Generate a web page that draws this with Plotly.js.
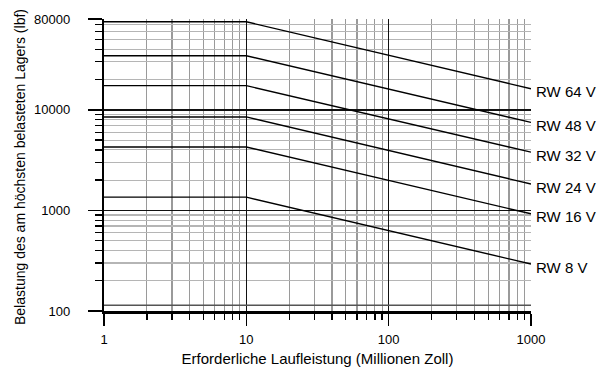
<!DOCTYPE html>
<html>
<head>
<meta charset="utf-8">
<script src="https://cdn.plot.ly/plotly-3.0.1.min.js"></script>
<style>
html,body{margin:0;padding:0;background:#fff;}
#chart{width:599px;height:368px;}
</style>
</head>
<body>
<div id="chart"></div>
<script>
// Data
const seriesNames = ["RW 64 V", "RW 48 V", "RW 32 V", "RW 24 V", "RW 16 V", "RW 8 V"];
const lifeX = [1, 10, 1000];                 // Erforderliche Laufleistung (Mio. Zoll)
const flatLoad = [75000, 34500, 17400, 8500, 4270, 1355];   // load up to 10
const endLoad  = [16200, 7500, 3800, 1830, 925, 293];       // load at 1000
const baseLineLoad = 114;                     // extra horizontal line near the bottom
const xMajorTicks = [1, 10, 100, 1000];
const xMajorText = ["1", "10", "100", "1000"];
const xMinorTicks = [2,3,4,5,6,7,8,9,20,30,40,50,60,70,80,90,200,300,400,500,600,700,800,900];
const yMajorTicks = [100, 1000, 10000, 80000];
const yMajorText = ["100", "1000", "10000", "80000"];
const yMinorTicks = [200,300,400,500,600,700,800,900,2000,3000,4000,5000,6000,7000,8000,9000,20000,30000,40000,50000,60000,70000];
const xTitle = "Erforderliche Laufleistung (Millionen Zoll)";
const yTitle = "Belastung des am höchsten belasteten Lagers (lbf)";

const FONT = "Liberation Sans, Arial, sans-serif";

const traces = seriesNames.map((name, i) => ({
  type: "scatter",
  mode: "lines",
  name: name,
  x: lifeX,
  y: [flatLoad[i], flatLoad[i], endLoad[i]],
  line: {color: "#000", width: 1.4},
  hoverinfo: "skip"
}));
traces.push({
  type: "scatter", mode: "lines",
  x: [lifeX[0], lifeX[lifeX.length - 1]],
  y: [baseLineLoad, baseLineLoad],
  line: {color: "#555", width: 1.4},
  hoverinfo: "skip"
});

const annotations = seriesNames.map((name, i) => ({
  xref: "x", yref: "y",
  x: Math.log10(lifeX[lifeX.length - 1]),
  y: Math.log10(endLoad[i]),
  text: name,
  showarrow: false,
  xanchor: "left",
  yanchor: "middle",
  xshift: 3,
  yshift: -3,
  font: {family: FONT, size: 15, color: "#000"}
}));
// y-axis title placed as a rotated annotation for exact positioning
annotations.push({
  xref: "paper", yref: "paper",
  x: 0, y: 0.5,
  xanchor: "center", yanchor: "middle",
  xshift: -84, yshift: -2,
  textangle: -90,
  text: yTitle,
  showarrow: false,
  font: {family: FONT, size: 14, color: "#000"}
});

const layout = {
  width: 599, height: 368,
  margin: {l: 104, r: 68, t: 19, b: 57, pad: 0},
  paper_bgcolor: "#fff",
  plot_bgcolor: "#fff",
  showlegend: false,
  font: {family: FONT, size: 13, color: "#000"},
  xaxis: {
    type: "log",
    range: [0, 3],
    tickmode: "array",
    tickvals: xMajorTicks,
    ticktext: xMajorText,
    ticks: "outside", ticklen: 12, tickwidth: 1.5, tickcolor: "#000",
    ticklabelstandoff: 3,
    showgrid: true, gridcolor: "#111", gridwidth: 1.4,
    showline: true, linecolor: "#000", linewidth: 2.5,
    zeroline: false,
    tickfont: {family: FONT, size: 13, color: "#000"},
    minor: {
      tickmode: "array", tickvals: xMinorTicks,
      ticks: "outside", ticklen: 6, tickwidth: 1.3, tickcolor: "#000",
      showgrid: true, gridcolor: "#9a9a9a", gridwidth: 1.2
    },
    title: {text: xTitle, font: {family: FONT, size: 15, color: "#000"}, standoff: 8}
  },
  yaxis: {
    type: "log",
    range: [2, Math.log10(80000)],
    tickmode: "array",
    tickvals: yMajorTicks,
    ticktext: yMajorText,
    ticks: "outside", ticklen: 14, tickwidth: 1.5, tickcolor: "#000",
    ticklabelstandoff: 15,
    showgrid: true, gridcolor: "#111", gridwidth: 1.4,
    showline: true, linecolor: "#000", linewidth: 2.2,
    zeroline: false,
    tickfont: {family: FONT, size: 13, color: "#000"},
    minor: {
      tickmode: "array", tickvals: yMinorTicks,
      ticks: "outside", ticklen: 7, tickwidth: 1.3, tickcolor: "#000",
      showgrid: true, gridcolor: "#b5b5b5", gridwidth: 1.2
    }
  },
  annotations: annotations
};

Plotly.newPlot("chart", traces, layout, {displayModeBar: false, staticPlot: true});
</script>
</body>
</html>
